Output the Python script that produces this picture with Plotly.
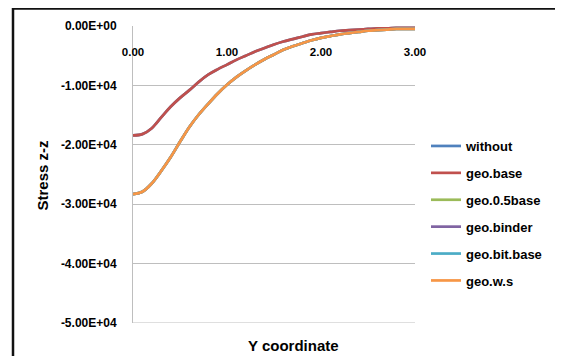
import plotly.graph_objects as go

# Y coordinate (x axis)
y_coord = [0.0, 0.1, 0.2, 0.3, 0.4, 0.5, 0.6, 0.7, 0.8, 0.9,
           1.0, 1.1, 1.2, 1.3, 1.4, 1.5, 1.6, 1.7, 1.8, 1.9,
           2.0, 2.1, 2.2, 2.3, 2.4, 2.5, 2.6, 2.7, 2.8, 2.9, 3.0]

# Stress z-z for each case
without = [-18400, -18200, -17200, -15400, -13600, -12100, -10800, -9400, -8200, -7300,
           -6500, -5700, -5000, -4300, -3700, -3100, -2600, -2200, -1800, -1400,
           -1200, -1000, -800, -700, -600, -500, -400, -400, -300, -300, -300]
geo_base = [-18400, -18200, -17200, -15400, -13600, -12100, -10800, -9400, -8200, -7300,
            -6500, -5700, -5000, -4300, -3700, -3100, -2600, -2200, -1800, -1400,
            -1200, -1000, -800, -700, -600, -500, -400, -400, -300, -300, -300]
geo_05base = [-28300, -27900, -26500, -24400, -22100, -19500, -17000, -14900, -13100, -11400,
              -9900, -8600, -7500, -6500, -5600, -4800, -4000, -3400, -2900, -2400,
              -2000, -1700, -1400, -1200, -1000, -800, -700, -600, -500, -500, -500]
geo_binder = [-28300, -27900, -26500, -24400, -22100, -19500, -17000, -14900, -13100, -11400,
              -9900, -8600, -7500, -6500, -5600, -4800, -4000, -3400, -2900, -2400,
              -2000, -1700, -1400, -1200, -1000, -800, -700, -600, -500, -500, -500]
geo_bit_base = [-28300, -27900, -26500, -24400, -22100, -19500, -17000, -14900, -13100, -11400,
                -9900, -8600, -7500, -6500, -5600, -4800, -4000, -3400, -2900, -2400,
                -2000, -1700, -1400, -1200, -1000, -800, -700, -600, -500, -500, -500]
geo_ws = [-28300, -27900, -26500, -24400, -22100, -19500, -17000, -14900, -13100, -11400,
          -9900, -8600, -7500, -6500, -5600, -4800, -4000, -3400, -2900, -2400,
          -2000, -1700, -1400, -1200, -1000, -800, -700, -600, -500, -500, -500]

series_names = ["without", "geo.base", "geo.0.5base", "geo.binder", "geo.bit.base", "geo.w.s"]
series_values = [without, geo_base, geo_05base, geo_binder, geo_bit_base, geo_ws]
colors = ["#4F81BD", "#C0504D", "#9BBB59", "#8064A2", "#4BACC6", "#F79646"]

x_ticks = [0, 1, 2, 3]
x_ticktext = ["0.00", "1.00", "2.00", "3.00"]
y_ticks = [0, -10000, -20000, -30000, -40000, -50000]
y_ticktext = ["0.00E+00", "-1.00E+04", "-2.00E+04", "-3.00E+04", "-4.00E+04", "-5.00E+04"]

FONT = "Liberation Sans"
fig = go.Figure()
for i, (name, vals, col) in enumerate(zip(series_names, series_values, colors)):
    fig.add_trace(go.Scatter(x=y_coord, y=vals, mode="lines", name=name,
                             line=dict(color=col, width=2.7, shape="spline"),
                             legendgroup="g%d" % i))

# the page body has an 8px margin, so the figure starts at (8, 8) on screen;
# keep the figure small enough that the page does not overflow the window
OFF = 8
W, H = 563 - 2 * OFF, 364 - 2 * OFF
# target screen positions of the plot area
SL, SR, ST, SB = 133, 415, 26, 323
L, T = SL - OFF, ST - OFF
R, B = W - (SR - OFF), H - (SB - OFF)
pw = W - L - R
ph = H - T - B

def px_x(p):  # screen x -> paper x
    return (p - OFF - L) / pw

def px_y(p):  # screen y -> paper y
    return (H - B - (p - OFF)) / ph

border = dict(color="#111111", width=2.5)

fig.update_layout(
    template="none",
    width=W, height=H,
    margin=dict(l=L, r=R, t=T, b=B, pad=0, autoexpand=False),
    paper_bgcolor="white", plot_bgcolor="white",
    font=dict(family=FONT, size=12, color="#000000", weight="bold"),
    showlegend=True,
    legend=dict(x=px_x(426), y=px_y(131), xanchor="left", yanchor="top",
                font=dict(family=FONT, size=13, color="#000000", weight="bold"),
                itemwidth=30, tracegroupgap=7, traceorder="grouped",
                bgcolor="rgba(0,0,0,0)", borderwidth=0),
    xaxis=dict(range=[0, 3], tickvals=x_ticks, ticktext=x_ticktext,
               anchor="free", position=1, side="bottom", automargin=False,
               showgrid=False, zeroline=False, showline=False,
               ticks="", ticklabelstandoff=17,
               tickfont=dict(family=FONT, size=11.5, weight="bold")),
    yaxis=dict(range=[-50000, 0], tickvals=y_ticks, ticktext=y_ticktext,
               automargin=False,
               showgrid=True, gridcolor="#BEBEBE", gridwidth=1, zeroline=False,
               showline=True, linecolor="#BEBEBE", linewidth=1, ticks="",
               ticklabelstandoff=13,
               tickfont=dict(family=FONT, size=12, weight="bold")),
    annotations=[
        dict(text="Y coordinate", xref="paper", yref="paper",
             x=px_x(293.5), y=px_y(345.5), xanchor="center", yanchor="middle",
             showarrow=False, font=dict(family=FONT, size=15, weight="bold")),
        dict(text="Stress z-z", xref="paper", yref="paper", textangle=-90,
             x=px_x(42), y=px_y(175.5), xanchor="center", yanchor="middle",
             showarrow=False, font=dict(family=FONT, size=15, weight="bold")),
    ],
    shapes=[
        # bottom gridline at the axis minimum (plotly skips it at the range edge)
        dict(type="line", xref="paper", yref="y", x0=0, x1=1,
             y0=y_ticks[-1], y1=y_ticks[-1], line=dict(color="#BEBEBE", width=1),
             layer="below"),
        # chart-area frame (top and left edges visible), kept inside the figure
        dict(type="line", xref="paper", yref="paper",
             x0=px_x(12), x1=px_x(W + OFF), y0=px_y(8.5), y1=px_y(8.5), line=border),
        dict(type="line", xref="paper", yref="paper",
             x0=px_x(13), x1=px_x(13), y0=px_y(7.5), y1=px_y(H + OFF), line=border),
    ],
)

fig.write_html("out.html")
